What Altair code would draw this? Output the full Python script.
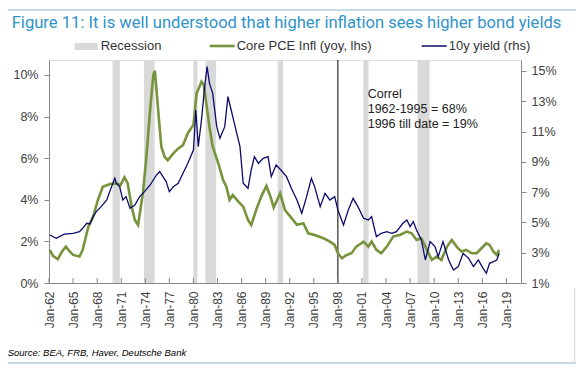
import altair as alt
import pandas as pd

# ---- data ----
pce_year = [1962.1,1962.5,1963.1,1963.6,1964.1,1964.5,1965.0,1965.8,1966.2,1966.9,1967.5,1968.1,1968.7,1969.6,1970.4,1970.9,1971.4,1971.8,1972.3,1972.7,1973.1,1973.7,1974.1,1974.6,1975.0,1975.2,1975.6,1976.0,1976.4,1976.8,1977.5,1978.1,1978.7,1979.3,1980.0,1980.4,1981.0,1981.3,1981.6,1982.0,1982.4,1983.1,1983.7,1984.1,1984.5,1984.9,1985.6,1986.2,1986.8,1987.2,1987.9,1988.5,1989.1,1989.6,1990.0,1990.8,1991.4,1992.0,1992.9,1993.7,1994.3,1995.1,1996.2,1997.0,1997.6,1998.0,1998.5,1999.1,1999.7,2000.3,2001.2,2001.8,2002.2,2002.8,2003.4,2004.1,2004.9,2005.7,2006.6,2007.2,2007.8,2008.4,2009.1,2009.7,2010.3,2010.9,2011.6,2012.2,2012.8,2013.4,2014.0,2014.7,2015.3,2015.9,2016.5,2016.9,2017.4,2017.8,2018.1]
pce_val = [1.59,1.3,1.15,1.5,1.75,1.55,1.35,1.27,1.59,2.7,3.19,4.0,4.63,4.76,4.79,4.7,5.08,4.8,3.67,3.03,2.79,4.31,5.9,8.32,10.0,10.2,8.32,6.55,6.07,5.9,6.23,6.47,6.63,7.2,7.6,9.12,9.68,9.52,8.64,7.5,6.55,5.75,4.95,4.63,4.0,4.23,3.91,3.67,3.03,2.79,3.6,4.2,4.66,4.15,3.63,4.31,3.51,3.23,2.8,2.87,2.39,2.31,2.15,1.99,1.83,1.43,1.19,1.35,1.43,1.75,1.99,1.75,1.99,1.59,1.43,1.75,2.23,2.31,2.47,2.39,2.07,2.15,1.59,1.11,1.27,1.11,1.75,2.07,1.75,1.51,1.59,1.43,1.43,1.67,1.91,1.83,1.51,1.35,1.59]

ust_year = [1962.1,1962.9,1963.9,1965.0,1965.8,1966.2,1966.7,1967.1,1967.5,1967.9,1968.5,1969.2,1969.8,1970.2,1970.4,1970.8,1971.2,1971.6,1972.1,1972.7,1973.3,1973.9,1974.6,1975.0,1975.4,1975.8,1976.2,1976.6,1977.0,1977.5,1978.1,1978.7,1979.3,1980.0,1980.3,1980.6,1981.0,1981.4,1981.7,1982.0,1982.4,1982.9,1983.3,1983.9,1984.3,1984.7,1985.1,1985.8,1986.2,1986.8,1987.2,1987.6,1988.1,1988.7,1989.3,1989.7,1990.3,1990.9,1991.6,1992.2,1992.9,1993.5,1994.1,1994.7,1995.1,1995.8,1996.4,1997.0,1997.6,1998.0,1998.7,1999.3,1999.9,2000.5,2001.2,2001.8,2002.2,2002.8,2003.4,2004.1,2004.7,2005.3,2006.1,2006.6,2007.0,2007.4,2007.8,2008.4,2008.9,2009.5,2010.1,2010.5,2011.1,2011.8,2012.4,2013.0,2013.6,2014.3,2014.9,2015.5,2016.1,2016.5,2016.9,2017.4,2017.8,2018.1]
ust_val = [4.17,3.95,4.23,4.28,4.39,4.61,4.94,4.9,5.38,5.71,6.04,6.48,7.36,7.91,7.58,7.36,6.48,6.7,5.93,6.15,6.7,7.03,7.47,7.8,8.13,8.35,8.02,7.69,7.03,7.36,7.58,8.24,8.9,9.78,12.42,10.0,11.76,13.96,15.28,14.18,13.52,11.32,10.55,11.32,13.3,12.42,11.54,10.0,7.58,7.25,8.46,9.34,8.9,9.23,9.34,8.02,8.79,8.46,8.02,7.25,6.48,5.6,6.7,7.91,7.36,6.04,6.92,6.48,6.7,5.82,4.83,5.82,6.59,6.04,5.27,5.16,5.38,4.06,4.28,4.39,4.28,4.39,4.94,5.16,4.72,5.05,4.5,3.84,2.52,3.73,3.4,2.74,3.73,2.52,1.86,2.08,2.96,2.63,2.08,2.52,1.97,1.64,2.3,2.41,2.52,2.96]

rec_start = [1969.92, 1973.83, 1980.0, 1981.5, 1990.5, 2001.17, 2007.92]
rec_end = [1970.83, 1975.17, 1980.5, 1982.83, 1991.17, 2001.83, 2009.42]

x_ticks = list(range(1962, 2020, 3))
left_ticks = [0, 2, 4, 6, 8, 10]
right_ticks = [1, 3, 5, 7, 9, 11, 13, 15]
marker_year = [1998.0]

# ---- layout ----
W, H = 472, 223
OX, OY = 49.3, 60.0  # page position of plot origin
def px(x):
    return x - OX
def py(y):
    return y - OY

xs = alt.Scale(domain=[1962.0, 2020.82], nice=False, zero=False)
GREEN = "#77933c"
NAVY = "#0b0b6b"
GREY = "#d9d9d9"
FONT = "Liberation Sans"

x_axis = alt.Axis(values=x_ticks, labelExpr="'Jan-' + substring(toString(datum.value), 2, 4)",
                  labelAngle=270, labelAlign="right", labelBaseline="middle",
                  ticks=False, labelPadding=8, labelFontSize=12, grid=False,
                  domainColor="#888888", labelColor="#404040", labelFont=FONT, title=None)

pce_df = pd.DataFrame({"year": pce_year, "val": pce_val})
ust_df = pd.DataFrame({"year": ust_year, "val": ust_val})
rec_df = pd.DataFrame({"s": rec_start, "e": rec_end})
tick_df = pd.DataFrame({"t": x_ticks})
mark_df = pd.DataFrame({"t": marker_year})
one = pd.DataFrame({"a": [0]})

rec = alt.Chart(rec_df).mark_rect(color=GREY).encode(
    x=alt.X("s:Q", scale=xs, axis=x_axis, title=None), x2="e:Q",
    y=alt.value(0), y2=alt.value(H))

vline = alt.Chart(mark_df).mark_rule(color="black", strokeWidth=1).encode(
    x=alt.X("t:Q", scale=xs, axis=x_axis, title=None), y=alt.value(0), y2=alt.value(H))

xtick = alt.Chart(tick_df).mark_rule(color="#888888", strokeWidth=1).encode(
    x=alt.X("t:Q", scale=xs, axis=x_axis, title=None), y=alt.value(H - 5), y2=alt.value(H))

pce = alt.Chart(pce_df).mark_line(color=GREEN, strokeWidth=2.6).encode(
    x=alt.X("year:Q", scale=xs, title=None, axis=x_axis),
    y=alt.Y("val:Q", scale=alt.Scale(domain=[0, 10.72], nice=False), title=None,
            axis=alt.Axis(orient="left", values=left_ticks, labelExpr="datum.value + '%'",
                          tickSize=5, tickColor="#888888", labelPadding=6, grid=False,
                          domainColor="#888888", labelColor="#404040", labelFont=FONT,
                          labelFontSize=12.5)))

ust = alt.Chart(ust_df).mark_line(color=NAVY, strokeWidth=1.3).encode(
    x=alt.X("year:Q", scale=xs, title=None, axis=x_axis),
    y=alt.Y("val:Q", scale=alt.Scale(domain=[1, 15.72], nice=False, zero=False), title=None,
            axis=alt.Axis(orient="right", values=right_ticks, labelExpr="datum.value + '%'",
                          tickSize=5, tickColor="#888888", labelPadding=5, grid=False,
                          domainColor="#888888", labelColor="#404040", labelFont=FONT,
                          labelFontSize=12.5)))

def txt(s, x, y, size=13, color="#333333", **kw):
    return alt.Chart(pd.DataFrame({"t": [s]})).mark_text(
        align="left", baseline="alphabetic", fontSize=size, color=color, font=kw.pop("font", FONT), **kw
    ).encode(text="t:N", x=alt.value(x), y=alt.value(y))

def rule(x1, x2, y1, y2, color, width=1):
    return alt.Chart(one).mark_rule(color=color, strokeWidth=width).encode(
        x=alt.value(x1), x2=alt.value(x2), y=alt.value(y1), y2=alt.value(y2))

title = txt("Figure 11: It is well understood that higher inflation sees higher bond yields",
            px(12), py(28), size=16.6, color="#3193c8", font="Roboto")
frame_top = rule(px(6), px(580), py(10), py(10), "#8db4cf")
frame_left = rule(px(6), px(6), py(10), py(38), "#8db4cf")
frame_bot = rule(px(6), px(580), py(363), py(363), "#8db4cf")
frame_right = rule(px(575), px(575), py(288), py(362), "#d0d8de")

leg_rec = alt.Chart(one).mark_rect(color=GREY).encode(
    x=alt.value(px(75)), x2=alt.value(px(98)), y=alt.value(py(43)), y2=alt.value(py(50)))
leg_rec_t = txt("Recession", px(101), py(50))
leg_g = rule(px(210), px(235), py(46), py(46), GREEN, 2.6)
leg_g_t = txt("Core PCE Infl (yoy, lhs)", px(237), py(50))
leg_b = rule(px(422), px(447), py(46), py(46), NAVY, 1.5)
leg_b_t = txt("10y yield (rhs)", px(449), py(50))

annot = alt.Chart(pd.DataFrame({"t": ["Correl", "1962-1995 = 68%", "1996 till date = 19%"],
                                "i": [0, 1, 2]})).mark_text(
    align="left", baseline="alphabetic", fontSize=12.5, color="#222222", font=FONT
).encode(text="t:N", x=alt.value(px(368)),
         y=alt.Y("i:Q", scale=alt.Scale(domain=[0, 2], range=[py(98), py(128)]), axis=None))

source = txt("Source: BEA, FRB, Haver, Deutsche Bank", px(8), py(356), size=9.5,
             color="#000000", fontStyle="italic")

chart = alt.layer(
    rec, vline, xtick, pce, ust,
    title, frame_top, frame_left, frame_bot, frame_right,
    leg_rec, leg_rec_t, leg_g, leg_g_t, leg_b, leg_b_t, annot, source
).resolve_scale(y="independent").properties(
    width=W, height=H,
    autosize=alt.AutoSizeParams(type="none"),
    padding={"left": 41, "top": 52, "right": 55, "bottom": 82}
).configure_view(stroke=None).configure(background="white")

chart.save("out.html", embed_options={"renderer": "svg", "actions": False})
